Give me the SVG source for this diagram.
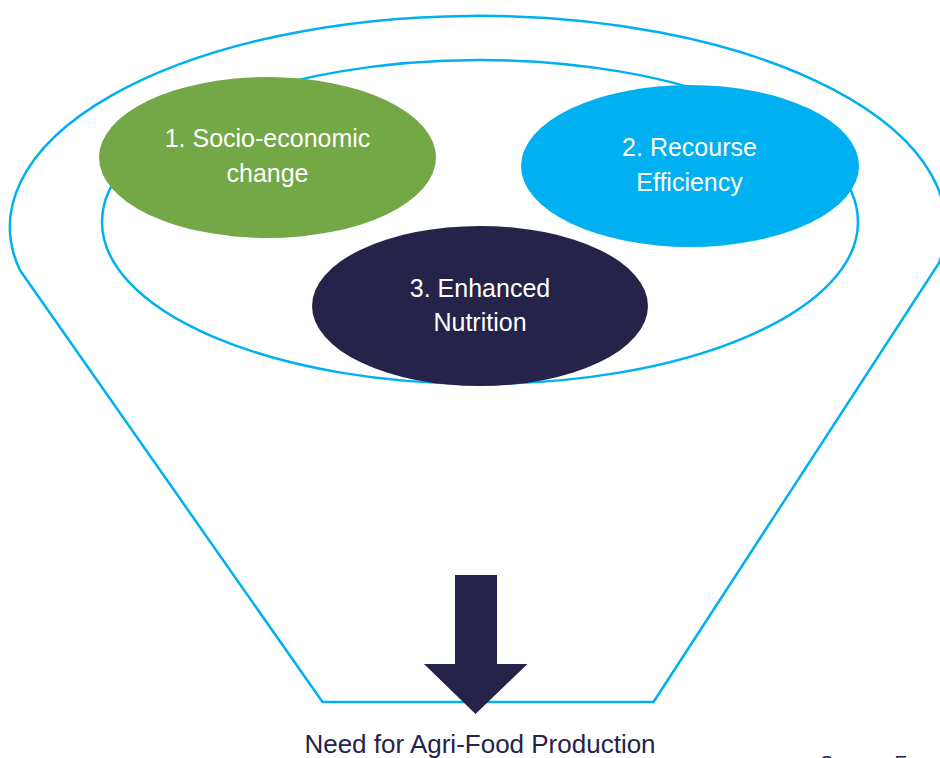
<svg xmlns="http://www.w3.org/2000/svg" width="940" height="758" viewBox="0 0 940 758">
<style>
.outline{fill:none;stroke:#00B0F0;stroke-width:2.5;stroke-linejoin:round}
.lbl{font-family:"Liberation Sans",Arial,sans-serif;font-size:25px;fill:#FFFFFF;text-anchor:middle}
.cap{font-family:"Liberation Sans",Arial,sans-serif;font-size:26px;fill:#252349;text-anchor:middle}
</style>
<rect width="940" height="758" fill="#FFFFFF"/>
<g id="funnel">
<path class="outline" d="M 322.5,702 L 653.5,702 L 939,263 A 468 211 0 1 0 19.8,270 Z"/>
<ellipse class="outline" cx="480" cy="222" rx="378" ry="162"/>
</g>
<g id="connectors">
<polygon points="455,575 497,575 497,664 527.5,664 475.5,714 424,664 455,664" fill="#252349"/>
</g>
<g id="node1">
<ellipse cx="267.5" cy="157.5" rx="168.5" ry="80.5" fill="#74A846"/>
<text class="lbl" x="267.5" y="147">1. Socio-economic</text>
<text class="lbl" x="267.5" y="182">change</text>
</g>
<g id="node2">
<ellipse cx="690" cy="166" rx="169" ry="81" fill="#00B0F0"/>
<text class="lbl" x="689.5" y="156">2. Recourse</text>
<text class="lbl" x="689.5" y="191">Efficiency</text>
</g>
<g id="node3">
<ellipse cx="480" cy="306" rx="168" ry="80" fill="#252349"/>
<text class="lbl" x="480" y="297">3. Enhanced</text>
<text class="lbl" x="480" y="331">Nutrition</text>
</g>
<g id="caption">
<text class="cap" x="480" y="753">Need for Agri-Food Production</text>
<text x="820" y="770" font-family="Liberation Sans, Arial, sans-serif" font-size="20" fill="#252349">Source: F</text>
</g>
</svg>
